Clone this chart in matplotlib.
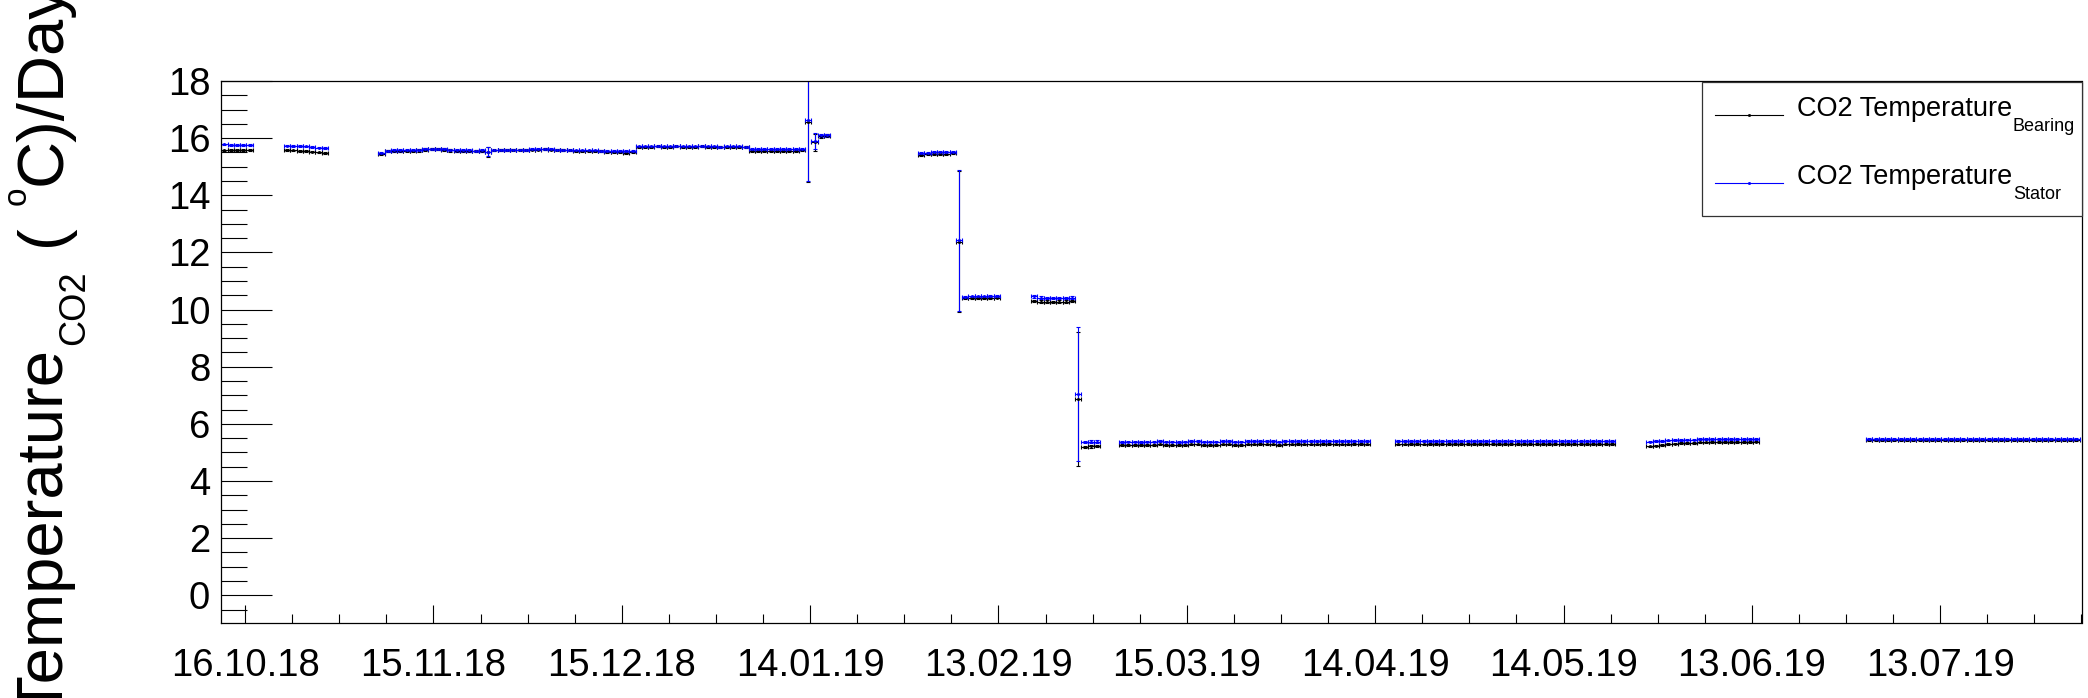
import datetime as dt
import numpy as np
import matplotlib
matplotlib.use("Agg")
import matplotlib.pyplot as plt
from matplotlib.font_manager import FontProperties
from matplotlib.lines import Line2D
from matplotlib.patches import Rectangle
from matplotlib.ticker import FixedLocator, MultipleLocator

FONT = "Liberation Sans"
W, H = 2088, 698
plt.rcParams['font.family'] = [FONT, 'DejaVu Sans']

base = dt.datetime(2018, 10, 16)

# first reading of every run of daily readings
seg_start = ["2018-10-12 17:00", "2018-10-22 17:00", "2018-11-06 17:00", "2019-01-13 17:00",
             "2019-01-31 17:00", "2019-02-18 17:00", "2019-03-04 17:00", "2019-04-17 17:00",
             "2019-05-27 17:00", "2019-07-01 17:00"]

bearing = [
    [15.57, 15.58, 15.58, 15.59, 15.58],
    [15.58, 15.57, 15.56, 15.55, 15.53, 15.50, 15.49],
    [15.45, 15.54, 15.55, 15.55, 15.56, 15.56, 15.57, 15.60, 15.61, 15.61, 15.60,
     15.57, 15.56, 15.56, 15.55, 15.55, 15.56, 15.52, 15.57, 15.58, 15.58, 15.59, 15.59, 15.58,
     15.60, 15.60, 15.61, 15.60, 15.59, 15.58, 15.57, 15.56, 15.56, 15.55, 15.56, 15.55,
     15.51, 15.50, 15.50, 15.49, 15.50,
     15.69, 15.70, 15.70, 15.71, 15.70, 15.70, 15.71, 15.70, 15.70, 15.70, 15.71, 15.70,
     15.70, 15.69, 15.70, 15.70, 15.70, 15.69,
     15.56, 15.55, 15.55, 15.54, 15.55, 15.56, 15.56, 15.56, 15.57],
    [16.55, 15.85, 16.07, 16.08],
    [15.40, 15.44, 15.45, 15.45, 15.46, 15.47, 12.38, 10.39, 10.40, 10.40, 10.41, 10.41, 10.42],
    [10.30, 10.28, 10.28, 10.27, 10.28, 10.28, 10.29, 6.87, 5.20, 5.21, 5.22],
    [5.26, 5.27, 5.27, 5.26, 5.27, 5.27, 5.28, 5.27, 5.27, 5.26, 5.27, 5.28, 5.28, 5.27,
     5.27, 5.27, 5.28, 5.28, 5.27, 5.27, 5.28, 5.28, 5.29, 5.28, 5.28, 5.27, 5.28, 5.28,
     5.29, 5.28, 5.28, 5.28, 5.29, 5.29, 5.28, 5.28, 5.28, 5.29, 5.29, 5.28],
    [5.28, 5.28, 5.29, 5.29, 5.28, 5.29, 5.29, 5.29, 5.30, 5.29, 5.29, 5.29, 5.30, 5.30,
     5.29, 5.29, 5.30, 5.30, 5.29, 5.29, 5.30, 5.30, 5.30, 5.29, 5.29, 5.30, 5.30, 5.30,
     5.29, 5.30, 5.30, 5.30, 5.29, 5.29, 5.30],
    [5.21, 5.24, 5.27, 5.29, 5.31, 5.32, 5.33, 5.34, 5.35, 5.35, 5.36, 5.36, 5.36, 5.37,
     5.37, 5.37, 5.37, 5.38],
    [5.42, 5.42, 5.43, 5.42, 5.42, 5.43, 5.42, 5.42, 5.42, 5.43, 5.43, 5.42, 5.42, 5.43,
     5.43, 5.43, 5.42, 5.43, 5.43, 5.44, 5.43, 5.43, 5.44, 5.44, 5.43, 5.43, 5.44, 5.44,
     5.43, 5.43, 5.44, 5.43, 5.43, 5.43],
]

stator = [
    [15.78, 15.77, 15.77, 15.76, 15.77],
    [15.74, 15.73, 15.72, 15.71, 15.69, 15.67, 15.66],
    [15.47, 15.56, 15.57, 15.57, 15.58, 15.58, 15.58, 15.62, 15.63, 15.62, 15.62,
     15.58, 15.57, 15.57, 15.57, 15.56, 15.57, 15.53, 15.58, 15.59, 15.59, 15.60, 15.60, 15.59,
     15.61, 15.61, 15.62, 15.61, 15.60, 15.59, 15.58, 15.57, 15.57, 15.57, 15.57, 15.56,
     15.55, 15.54, 15.54, 15.54, 15.55,
     15.71, 15.71, 15.71, 15.72, 15.71, 15.71, 15.72, 15.71, 15.71, 15.71, 15.72, 15.71,
     15.71, 15.70, 15.71, 15.71, 15.71, 15.70,
     15.62, 15.61, 15.61, 15.61, 15.62, 15.62, 15.62, 15.63, 15.63],
    [16.62, 15.90, 16.10, 16.10],
    [15.47, 15.49, 15.50, 15.50, 15.51, 15.52, 12.42, 10.45, 10.46, 10.46, 10.46, 10.47, 10.47],
    [10.46, 10.42, 10.41, 10.41, 10.41, 10.41, 10.42, 7.04, 5.37, 5.38, 5.38],
    [5.37, 5.38, 5.38, 5.37, 5.38, 5.38, 5.39, 5.38, 5.38, 5.37, 5.38, 5.39, 5.39, 5.38,
     5.38, 5.38, 5.39, 5.39, 5.38, 5.38, 5.39, 5.39, 5.40, 5.39, 5.39, 5.38, 5.39, 5.39,
     5.40, 5.39, 5.39, 5.39, 5.40, 5.40, 5.39, 5.39, 5.39, 5.40, 5.40, 5.39],
    [5.39, 5.39, 5.40, 5.40, 5.39, 5.40, 5.40, 5.40, 5.41, 5.40, 5.40, 5.40, 5.41, 5.41,
     5.40, 5.40, 5.41, 5.41, 5.40, 5.40, 5.41, 5.41, 5.41, 5.40, 5.40, 5.41, 5.41, 5.41,
     5.40, 5.41, 5.41, 5.41, 5.40, 5.40, 5.41],
    [5.38, 5.40, 5.41, 5.42, 5.43, 5.44, 5.45, 5.45, 5.46, 5.46, 5.46, 5.46, 5.47, 5.47,
     5.47, 5.47, 5.47, 5.47],
    [5.46, 5.46, 5.47, 5.46, 5.46, 5.47, 5.46, 5.46, 5.47, 5.47, 5.47, 5.46, 5.46, 5.47,
     5.47, 5.47, 5.46, 5.47, 5.47, 5.48, 5.47, 5.47, 5.48, 5.48, 5.47, 5.47, 5.48, 5.48,
     5.47, 5.47, 5.48, 5.47, 5.47, 5.47],
]

# y errors: one value for a quiet run, a list where a run has outliers
bearing_err = [0.03, 0.03,
               [0.04] * 17 + [0.17] + [0.03] * 50,
               [2.08, 0.30, 0.05, 0.05],
               [0.04] * 6 + [2.46] + [0.03] * 6,
               [0.04] * 7 + [2.35] + [0.04] * 3,
               0.03, 0.03, 0.03, 0.03]
stator_err = [0.03, 0.03,
              [0.04] * 17 + [0.17] + [0.03] * 50,
              [2.12, 0.28, 0.05, 0.05],
              [0.04] * 6 + [2.48] + [0.03] * 6,
              [0.04] * 7 + [2.35] + [0.04] * 3,
              0.03, 0.03, 0.03, 0.03]

tick_days = [0, 30, 60, 90, 120, 150, 180, 210, 240, 270]
tick_labels = [(base + dt.timedelta(days=d)).strftime("%d.%m.%y") for d in tick_days]


def series(vals, errs):
    xs, ys, es = [], [], []
    for start, v, e in zip(seg_start, vals, errs):
        t0 = (dt.datetime.strptime(start, "%Y-%m-%d %H:%M") - base).total_seconds() / 86400.
        xs.append(t0 + np.arange(len(v)))
        ys.append(np.array(v))
        es.append(np.broadcast_to(np.array(e, dtype=float), (len(v),)))
    return np.concatenate(xs), np.concatenate(ys), np.concatenate(es)


fig = plt.figure(figsize=(W / 100, H / 100), dpi=100)
ax = fig.add_axes([221.3 / W, 1 - 623.3 / H, (2081.5 - 221.3) / W, (623.3 - 81) / H])

xb, yb, eb = series(bearing, bearing_err)
xs, ys, es = series(stator, stator_err)
for x, y, e, c in [(xb, yb, eb, 'black'), (xs, ys, es, 'blue')]:
    ax.errorbar(x, y, yerr=e, xerr=0.5, fmt='s', ms=1.0, mfc=c, mec=c, ecolor=c,
                elinewidth=0.8, capsize=1.6, capthick=0.8, linestyle='none', clip_on=True)

ax.set_xlim(xb[0] - 0.5, xb[-1] + 0.8)
ax.set_ylim(-0.98, 18)

ax.xaxis.set_major_locator(FixedLocator(tick_days))
ax.set_xticklabels(tick_labels)
ax.xaxis.set_minor_locator(MultipleLocator(7.5))
ax.yaxis.set_major_locator(MultipleLocator(2))
ax.yaxis.set_minor_locator(MultipleLocator(0.5))
ax.tick_params(axis='x', which='major', direction='in', length=13, width=0.8,
               labelsize=27.5, pad=18, top=False)
ax.tick_params(axis='x', which='minor', direction='in', length=6.5, width=0.8, top=False)
ax.tick_params(axis='y', which='major', direction='in', length=36.7, width=0.8,
               labelsize=27.5, pad=8, right=False)
ax.tick_params(axis='y', which='minor', direction='in', length=18.7, width=0.8, right=False)
for sp in ax.spines.values():
    sp.set_linewidth(0.9)

renderer = fig.canvas.get_renderer()


def text_w(s, fp):
    w, _, _ = renderer.get_text_width_height_descent(s, fp, ismath=False)
    return w


# y title, drawn in pieces so sub/superscripts match the ROOT look
y = 714.0
for s, size, dx, gap in [("Temperature", 47, 0, 0), ("CO2", 26, 23, 3), ("(", 47, 0, 24),
                         ("o", 24, -35, 20), ("C)/Day", 47, 0, 1)]:
    y -= gap
    fp = FontProperties(family=FONT, size=size)
    fig.text((61 + dx) / W, 1 - y / H, s, rotation=90, rotation_mode='anchor',
             ha='left', va='baseline', fontproperties=fp)
    y -= text_w(s, fp)

# legend box
fig.add_artist(Rectangle((1701.7 / W, 1 - 215.7 / H), (2081.7 - 1701.7) / W, (215.7 - 81.7) / H,
                         transform=fig.transFigure, facecolor='white', edgecolor='#333333',
                         lw=0.9, zorder=5))
for ly, c, sub in [(115, 'black', "Bearing"), (183, 'blue', "Stator")]:
    fig.add_artist(Line2D([1715 / W, 1782.7 / W], [1 - ly / H] * 2, transform=fig.transFigure,
                          color=c, lw=0.8, zorder=6))
    fig.add_artist(Line2D([1749 / W], [1 - ly / H], transform=fig.transFigure, marker='s',
                          ms=1.0, color=c, zorder=6))
    fp = FontProperties(family=FONT, size=19.5)
    fig.text(1796.7 / W, 1 - (ly + 1) / H, "CO2 Temperature", fontproperties=fp,
             ha='left', va='baseline', zorder=7)
    xe = 1796.7 + text_w("CO2 Temperature", fp) + 1
    fig.text(xe / W, 1 - (ly + 16) / H, sub, fontproperties=FontProperties(family=FONT, size=13),
             ha='left', va='baseline', zorder=7)

fig.savefig("out.png", dpi=100)
